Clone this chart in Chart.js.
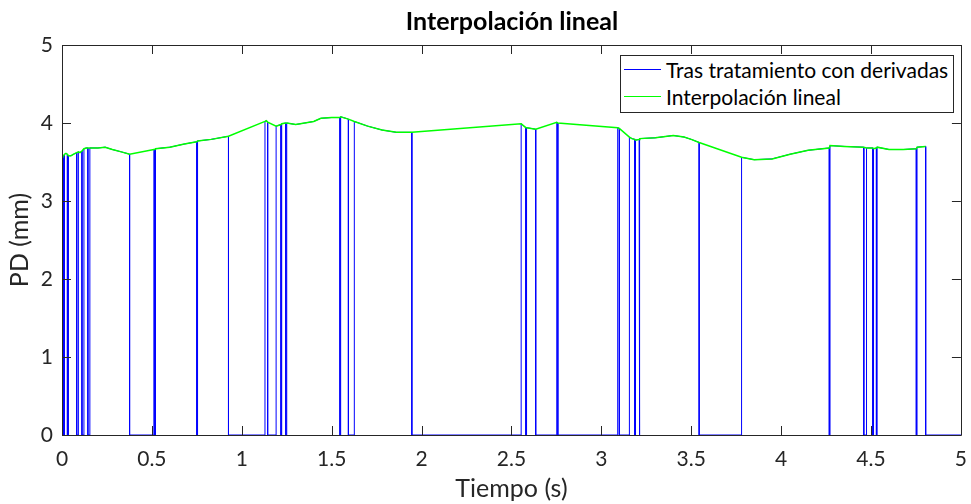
<!DOCTYPE html>
<html lang="es">
<head>
<meta charset="utf-8">
<title>Interpolación lineal</title>
<script src="https://cdn.jsdelivr.net/npm/chart.js@4.4.1/dist/chart.umd.min.js"></script>
<style>
  html, body { margin: 0; padding: 0; background: #fff; }
  #marco { position: relative; width: 971px; height: 504px; }
  #titulo {
    position: absolute; left: 62px; top: 5px; width: 900px; line-height: 30px;
    text-align: center; font-family: Lato, "Open Sans", sans-serif;
    font-size: 25px; font-weight: bold; color: #000;
  }
  #leyenda {
    position: absolute; left: 620px; top: 55px; width: 334px; height: 58px;
    border: 1px solid #262626; background: #fff; box-sizing: border-box;
    font-family: Lato, "Open Sans", sans-serif; font-size: 21px; color: #000;
    padding-top: 0;
  }
  #leyenda .fila { display: flex; align-items: center; height: 27px; }
  #leyenda .linea { width: 37px; height: 1px; margin: 0 5px 0 3px; }
</style>
</head>
<body>
<div id="marco">
  <canvas id="graficoPD" width="971" height="504"></canvas>
  <div id="titulo">Interpolación lineal</div>
  <div id="leyenda"></div>
</div>
<script>
// Instantes (s) de la señal ya interpolada y su valor de PD (mm)
var tiempo = [
  0.000, 0.004, 0.008, 0.014, 0.022, 0.030, 0.036, 0.050, 0.065, 0.082,
  0.091, 0.100, 0.111, 0.122, 0.135, 0.144, 0.155, 0.200, 0.240, 0.280,
  0.330, 0.376, 0.511, 0.516, 0.520, 0.600, 0.680, 0.750, 0.754, 0.830,
  0.926, 1.129, 1.137, 1.144, 1.191, 1.218, 1.222, 1.245, 1.250, 1.300,
  1.350, 1.400, 1.440, 1.500, 1.546, 1.550, 1.593, 1.626, 1.700, 1.780,
  1.860, 1.946, 2.554, 2.580, 2.584, 2.610, 2.635, 2.752, 2.758, 3.091,
  3.100, 3.156, 3.170, 3.186, 3.190, 3.210, 3.214, 3.300, 3.400, 3.460,
  3.500, 3.544, 3.780, 3.850, 3.950, 4.050, 4.150, 4.268, 4.272, 4.350,
  4.460, 4.475, 4.510, 4.514, 4.530, 4.534, 4.600, 4.680, 4.752, 4.756,
  4.804
];
var pdInterp = [
  3.56, 3.57, 3.58, 3.60, 3.61, 3.60, 3.58, 3.58, 3.60, 3.62,
  3.63, 3.62, 3.64, 3.67, 3.68, 3.68, 3.68, 3.68, 3.69, 3.66,
  3.63, 3.60, 3.66, 3.66, 3.67, 3.69, 3.73, 3.76, 3.77, 3.79,
  3.83, 4.02, 4.03, 4.01, 3.96, 3.98, 3.99, 4.00, 4.00, 3.98,
  4.00, 4.02, 4.06, 4.07, 4.07, 4.08, 4.05, 4.02, 3.96, 3.91,
  3.88, 3.88, 3.99, 3.94, 3.94, 3.93, 3.92, 4.01, 4.00, 3.94,
  3.93, 3.82, 3.80, 3.79, 3.78, 3.79, 3.80, 3.81, 3.84, 3.82,
  3.79, 3.75, 3.56, 3.53, 3.54, 3.60, 3.65, 3.68, 3.71, 3.70,
  3.69, 3.68, 3.68, 3.67, 3.68, 3.69, 3.66, 3.66, 3.67, 3.69,
  3.70
];
// Parpadeos detectados por derivadas: la señal tratada vale 0 dentro de cada uno
var inicioParpadeo = [
  0.008, 0.030, 0.082, 0.111, 0.144, 0.376, 0.516, 0.750, 0.926, 1.144,
  1.218, 1.245, 1.546, 1.593, 1.946, 2.580, 2.635, 2.758, 3.100, 3.186,
  3.210, 3.544, 4.268, 4.460, 4.510, 4.530, 4.752, 4.804
];
var finParpadeo = [
  0.014, 0.036, 0.091, 0.122, 0.155, 0.511, 0.520, 0.754, 1.129, 1.191,
  1.222, 1.250, 1.550, 1.626, 2.554, 2.584, 2.752, 3.091, 3.156, 3.190,
  3.214, 3.780, 4.272, 4.475, 4.514, 4.534, 4.756, 5.000
];
var ticksX = [0, 0.5, 1, 1.5, 2, 2.5, 3, 3.5, 4, 4.5, 5];
var ticksY = [0, 1, 2, 3, 4, 5];

function coincide(lista, t) {
    return lista.some(function(v) { return Math.abs(v - t) < 1e-9; });
}

// Señal tras el tratamiento: igual a la interpolada fuera de los parpadeos, 0 dentro
function serieTratada() {
    var puntos = [];
    tiempo.forEach(function(t, i) {
        if (coincide(finParpadeo, t)) puntos.push({ x: t, y: 0 });
        puntos.push({ x: t, y: pdInterp[i] });
        if (coincide(inicioParpadeo, t)) puntos.push({ x: t, y: 0 });
    });
    var ultimo = finParpadeo[finParpadeo.length - 1];
    if (ultimo > tiempo[tiempo.length - 1]) puntos.push({ x: ultimo, y: 0 });
    return puntos;
}

var serieInterp = tiempo.map(function(t, i) { return { x: t, y: pdInterp[i] }; });

var fuente = 'Lato, "Open Sans", sans-serif';
var colorEjes = '#262626';

// Caja y marcas hacia dentro, al estilo de los ejes de MATLAB
var ejesCaja = {
    id: 'ejesCaja',
    afterDraw: function(chart) {
        var ctx = chart.ctx, a = chart.chartArea;
        var sx = chart.scales.x, sy = chart.scales.y;
        var largo = 9;
        ctx.save();
        ctx.strokeStyle = colorEjes;
        ctx.lineWidth = 1;
        ctx.beginPath();
        ctx.rect(Math.round(a.left) + 0.5, Math.round(a.top) + 0.5,
                 Math.round(a.right - a.left), Math.round(a.bottom - a.top));
        ticksX.forEach(function(v) {
            var px = Math.round(sx.getPixelForValue(v)) + 0.5;
            ctx.moveTo(px, a.bottom); ctx.lineTo(px, a.bottom - largo);
            ctx.moveTo(px, a.top); ctx.lineTo(px, a.top + largo);
        });
        ticksY.forEach(function(v) {
            var py = Math.round(sy.getPixelForValue(v)) + 0.5;
            ctx.moveTo(a.left, py); ctx.lineTo(a.left + largo, py);
            ctx.moveTo(a.right, py); ctx.lineTo(a.right - largo, py);
        });
        ctx.stroke();
        ctx.restore();
    }
};

var grafico = new Chart(document.getElementById('graficoPD').getContext('2d'), {
    type: 'line',
    data: {
        datasets: [{
            label: 'Tras tratamiento con derivadas',
            data: serieTratada(),
            borderColor: '#0000ff',
            borderWidth: 1,
            pointRadius: 0,
            tension: 0,
            order: 2
        }, {
            label: 'Interpolación lineal',
            data: serieInterp,
            borderColor: '#00ff00',
            borderWidth: 1.5,
            pointRadius: 0,
            tension: 0,
            order: 1
        }]
    },
    options: {
        responsive: false,
        animation: false,
        devicePixelRatio: 1,
        layout: { padding: { left: 0, right: 9, top: 45, bottom: 0 } },
        plugins: {
            legend: { display: false },
            tooltip: { enabled: false },
            title: { display: false }
        },
        scales: {
            x: {
                type: 'linear', min: 0, max: 5,
                afterBuildTicks: function(s) { s.ticks = ticksX.map(function(v) { return { value: v }; }); },
                afterFit: function(s) { s.height = 69; },
                grid: { display: false },
                border: { display: false },
                ticks: {
                    color: colorEjes, padding: 4, maxRotation: 0,
                    font: { family: fuente, size: 21 },
                    callback: function(v) { return String(v); }
                },
                title: {
                    display: true, text: 'Tiempo (s)', color: colorEjes,
                    font: { family: fuente, size: 25 }, padding: { top: 0, bottom: 0 }
                }
            },
            y: {
                type: 'linear', min: 0, max: 5,
                afterBuildTicks: function(s) { s.ticks = ticksY.map(function(v) { return { value: v }; }); },
                afterFit: function(s) { s.width = 62; },
                grid: { display: false },
                border: { display: false },
                ticks: {
                    color: colorEjes, padding: 1,
                    font: { family: fuente, size: 21 }
                },
                title: {
                    display: true, text: 'PD (mm)', color: colorEjes,
                    font: { family: fuente, size: 25 }, padding: { top: 5, bottom: 0 }
                }
            }
        }
    },
    plugins: [ejesCaja]
});

// Leyenda dentro de los ejes, arriba a la derecha
var leyenda = document.getElementById('leyenda');
grafico.data.datasets.forEach(function(ds) {
    var fila = document.createElement('div');
    fila.className = 'fila';
    var linea = document.createElement('span');
    linea.className = 'linea';
    linea.style.background = ds.borderColor;
    var texto = document.createElement('span');
    texto.textContent = ds.label;
    fila.appendChild(linea);
    fila.appendChild(texto);
    leyenda.appendChild(fila);
});
</script>
</body>
</html>
